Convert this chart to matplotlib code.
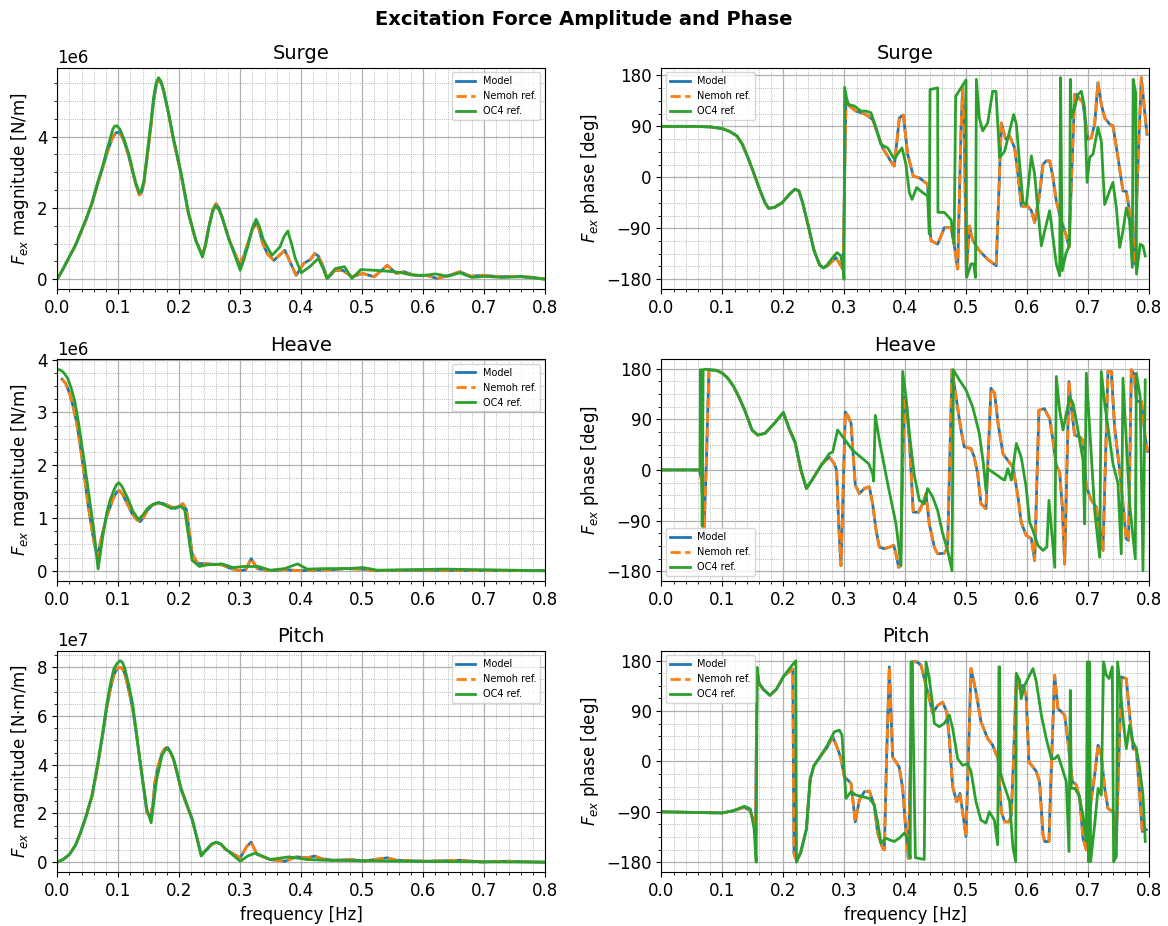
import numpy as np
import matplotlib
matplotlib.use("Agg")
import matplotlib.pyplot as plt
from matplotlib.ticker import MultipleLocator, AutoMinorLocator

# ---- magnitude data (freq [Hz], value), surge/heave in 1e6 N/m, pitch in 1e7 N.m/m ----
surge_mag_nemoh = [
    (0.0, 0.0), (0.01, 0.3), (0.02, 0.63), (0.03, 0.95), (0.038, 1.28), (0.047, 1.65),
    (0.057, 2.12), (0.066, 2.65), (0.075, 3.15), (0.081, 3.5), (0.087, 3.8), (0.091, 3.98),
    (0.096, 4.1), (0.1, 4.12), (0.105, 4.04), (0.11, 3.85), (0.1175, 3.43), (0.123, 3.05),
    (0.1285, 2.68), (0.1346, 2.36), (0.138, 2.42), (0.142, 2.68), (0.148, 3.5), (0.154, 4.36),
    (0.158, 5.0), (0.163, 5.49), (0.1675, 5.6), (0.171, 5.48), (0.1754, 5.2), (0.183, 4.6),
    (0.1906, 3.9), (0.2028, 2.96), (0.215, 1.84), (0.227, 1.09), (0.238, 0.67), (0.243, 0.95),
    (0.2485, 1.47), (0.255, 1.95), (0.2606, 2.12), (0.265, 2.0), (0.27, 1.75), (0.282, 1.09),
    (0.299, 0.42), (0.306, 0.65), (0.3124, 1.0), (0.32, 1.4), (0.3264, 1.56), (0.331, 1.4),
    (0.3368, 1.0), (0.345, 0.7), (0.355, 0.53), (0.365, 0.68), (0.373, 0.81), (0.38, 0.55),
    (0.3916, 0.11), (0.404, 0.44), (0.415, 0.55), (0.422, 0.72), (0.428, 0.65), (0.434, 0.44),
    (0.443, 0.02), (0.4555, 0.25), (0.468, 0.25), (0.483, 0.07), (0.501, 0.16), (0.5195, 0.07),
    (0.532, 0.25), (0.541, 0.39), (0.556, 0.16), (0.568, 0.21), (0.5865, 0.11), (0.605, 0.11),
    (0.623, 0.02), (0.645, 0.12), (0.66, 0.21), (0.678, 0.08), (0.696, 0.11), (0.7266, 0.07),
    (0.757, 0.08), (0.781, 0.05), (0.8, 0.0),
]
surge_mag_oc4 = [
    (0.0, 0.0), (0.01, 0.3), (0.02, 0.63), (0.03, 0.96), (0.038, 1.3), (0.047, 1.68),
    (0.057, 2.15), (0.066, 2.7), (0.075, 3.2), (0.081, 3.6), (0.087, 3.95), (0.091, 4.2),
    (0.094, 4.29), (0.098, 4.3), (0.103, 4.2), (0.11, 3.9), (0.1175, 3.5), (0.123, 3.1),
    (0.1285, 2.72), (0.1346, 2.42), (0.138, 2.5), (0.142, 2.75), (0.148, 3.6), (0.154, 4.45),
    (0.158, 5.1), (0.162, 5.5), (0.166, 5.65), (0.17, 5.55), (0.1745, 5.3), (0.182, 4.7),
    (0.19, 4.0), (0.2028, 3.0), (0.215, 1.88), (0.227, 1.1), (0.238, 0.62), (0.243, 0.95),
    (0.2485, 1.45), (0.255, 1.9), (0.2595, 2.07), (0.265, 1.95), (0.27, 1.75), (0.282, 1.1),
    (0.3, 0.25), (0.306, 0.55), (0.313, 0.95), (0.32, 1.45), (0.326, 1.68), (0.331, 1.5),
    (0.338, 1.1), (0.352, 0.67), (0.365, 0.9), (0.372, 1.2), (0.378, 1.35), (0.384, 1.0),
    (0.39, 0.6), (0.4, 0.18), (0.414, 0.35), (0.428, 0.58), (0.436, 0.3), (0.442, 0.02),
    (0.456, 0.3), (0.471, 0.35), (0.483, 0.02), (0.498, 0.27), (0.52, 0.25), (0.544, 0.22),
    (0.562, 0.19), (0.58, 0.12), (0.6, 0.1), (0.62, 0.15), (0.64, 0.08), (0.66, 0.18),
    (0.68, 0.05), (0.7, 0.08), (0.73, 0.05), (0.76, 0.07), (0.8, 0.0),
]
heave_mag_nemoh = [
    (0.008, 3.63), (0.014, 3.55), (0.02, 3.37), (0.026, 3.12), (0.032, 2.8), (0.038, 2.35),
    (0.044, 1.85), (0.05, 1.3), (0.057, 0.77), (0.061, 0.5), (0.066, 0.27), (0.072, 0.6),
    (0.081, 1.03), (0.088, 1.25), (0.093, 1.4), (0.098, 1.5), (0.102, 1.52), (0.107, 1.45),
    (0.1145, 1.28), (0.122, 1.1), (0.13, 0.97), (0.136, 0.93), (0.142, 1.02), (0.148, 1.15),
    (0.157, 1.25), (0.1663, 1.29), (0.175, 1.27), (0.1845, 1.22), (0.1937, 1.18), (0.2, 1.22),
    (0.206, 1.27), (0.212, 1.15), (0.221, 0.33), (0.23, 0.14), (0.245, 0.13), (0.27, 0.11),
    (0.285, 0.04), (0.3, 0.0), (0.309, 0.02), (0.318, 0.23), (0.328, 0.04), (0.349, 0.0),
    (0.373, 0.02), (0.398, 0.0), (0.422, 0.01), (0.452, 0.02), (0.471, 0.04), (0.501, 0.03),
    (0.52, 0.0), (0.574, 0.01), (0.8, 0.0),
]
heave_mag_oc4 = [
    (0.0, 3.82), (0.006, 3.8), (0.011, 3.75), (0.017, 3.65), (0.023, 3.46), (0.029, 3.2),
    (0.035, 2.8), (0.042, 2.25), (0.05, 1.6), (0.06, 0.77), (0.067, 0.03), (0.074, 0.6),
    (0.081, 1.09), (0.087, 1.35), (0.093, 1.53), (0.097, 1.63), (0.101, 1.67), (0.106, 1.6),
    (0.1145, 1.4), (0.124, 1.13), (0.133, 0.97), (0.14, 1.05), (0.148, 1.18), (0.157, 1.26),
    (0.1663, 1.29), (0.177, 1.24), (0.187, 1.18), (0.195, 1.2), (0.2028, 1.22), (0.209, 1.15),
    (0.221, 0.2), (0.233, 0.08), (0.245, 0.11), (0.27, 0.13), (0.288, 0.06), (0.306, 0.08),
    (0.33, 0.08), (0.349, 0.01), (0.373, 0.04), (0.394, 0.13), (0.41, 0.03), (0.44, 0.04),
    (0.477, 0.04), (0.501, 0.06), (0.525, 0.01), (0.635, 0.03), (0.8, 0.0),
]
pitch_mag_nemoh = [
    (0.0, 0.0), (0.01, 0.12), (0.02, 0.32), (0.03, 0.7), (0.038, 1.2), (0.047, 1.85),
    (0.057, 2.7), (0.066, 3.9), (0.075, 5.3), (0.081, 6.3), (0.087, 7.1), (0.093, 7.7),
    (0.098, 7.93), (0.102, 8.0), (0.107, 7.95), (0.111, 7.72), (0.117, 7.1), (0.1236, 6.3),
    (0.13, 5.2), (0.136, 4.1), (0.142, 3.0), (0.147, 2.03), (0.153, 1.9), (0.157, 2.4),
    (0.16, 3.27), (0.165, 3.9), (0.172, 4.5), (0.177, 4.68), (0.1815, 4.7), (0.186, 4.5),
    (0.1906, 4.22), (0.196, 3.7), (0.2028, 3.0), (0.21, 2.5), (0.221, 1.76), (0.228, 1.1),
    (0.236, 0.32), (0.2455, 0.52), (0.253, 0.72), (0.2606, 0.82), (0.268, 0.75), (0.276, 0.52),
    (0.3, 0.18), (0.311, 0.66), (0.318, 0.82), (0.3275, 0.32), (0.349, 0.11), (0.373, 0.04),
    (0.392, 0.22), (0.41, 0.18), (0.422, 0.25), (0.434, 0.14), (0.4525, 0.08), (0.483, 0.11),
    (0.501, 0.04), (0.52, 0.11), (0.541, 0.18), (0.556, 0.08), (0.605, 0.04), (0.66, 0.08),
    (0.696, 0.01), (0.74, 0.04), (0.8, 0.0),
]
pitch_mag_oc4 = [
    (0.0, 0.0), (0.01, 0.12), (0.02, 0.32), (0.03, 0.7), (0.038, 1.2), (0.047, 1.88),
    (0.057, 2.75), (0.066, 4.0), (0.075, 5.4), (0.081, 6.45), (0.087, 7.3), (0.093, 7.95),
    (0.098, 8.15), (0.103, 8.27), (0.107, 8.2), (0.111, 7.93), (0.117, 7.3), (0.1236, 6.5),
    (0.13, 5.3), (0.136, 4.1), (0.142, 3.0), (0.147, 2.17), (0.154, 1.62), (0.158, 2.4),
    (0.163, 3.4), (0.172, 4.4), (0.179, 4.68), (0.185, 4.55), (0.1906, 4.25), (0.196, 3.75),
    (0.2028, 3.05), (0.21, 2.55), (0.221, 1.8), (0.228, 1.1), (0.236, 0.25), (0.2455, 0.55),
    (0.253, 0.75), (0.2606, 0.82), (0.268, 0.75), (0.276, 0.55), (0.3, 0.04), (0.312, 0.25),
    (0.325, 0.38), (0.349, 0.11), (0.38, 0.22), (0.41, 0.11), (0.44, 0.08), (0.5, 0.06),
    (0.6, 0.03), (0.8, 0.0),
]

# ---- phase data (freq [Hz], phase [deg]) ----
surge_ph_nemoh = [
    (0.0, 90), (0.05, 90), (0.081, 89), (0.1, 86), (0.112, 81), (0.124, 73), (0.133, 58),
    (0.1426, 33), (0.152, 6), (0.161, -21), (0.17, -45), (0.176, -55), (0.1856, -53),
    (0.198, -45), (0.21, -30), (0.219, -21), (0.2255, -24), (0.2316, -45), (0.241, -86),
    (0.25, -128), (0.2593, -154), (0.2654, -160), (0.2716, -157), (0.2808, -148), (0.2863, -142),
    (0.2943, -156), (0.298, -163), (0.3027, 140), (0.3082, 126), (0.319, 117), (0.3355, 111),
    (0.3464, 102), (0.3628, 52), (0.3792, 23), (0.382, 20), (0.3902, 105), (0.3967, 110),
    (0.4038, 41), (0.4131, 2), (0.423, -1), (0.4366, -12), (0.4393, -77), (0.4421, -112),
    (0.453, -118), (0.464, -89), (0.475, -89), (0.48, -118), (0.4858, -162), (0.4913, 82),
    (0.494, 158), (0.4967, 82), (0.5, -172), (0.505, -86), (0.51, -110), (0.52, -128),
    (0.535, -145), (0.549, -156), (0.5574, 96), (0.5628, 73), (0.5656, 67), (0.571, 73),
    (0.5792, 52), (0.5847, 5), (0.5902, -51), (0.601, -51), (0.6066, -59), (0.612, -80),
    (0.62, -30), (0.6257, 23), (0.631, 29), (0.6366, 29), (0.642, 0), (0.6475, -42),
    (0.6557, -77), (0.6639, -103), (0.6683, -124), (0.6776, 146), (0.68, 146), (0.691, 132),
    (0.6995, 67), (0.705, 70), (0.7104, 94), (0.7158, 167), (0.7213, 129), (0.7268, 105),
    (0.735, 94), (0.7404, 91), (0.7486, 35), (0.7568, -24), (0.7623, -25), (0.7667, -54),
    (0.7705, -106), (0.776, -153), (0.7814, 23), (0.7869, 176), (0.7923, 117), (0.7962, 76),
]
surge_ph_oc4 = [
    (0.0, 90), (0.05, 90), (0.081, 89), (0.1, 86), (0.112, 81), (0.124, 73), (0.133, 58),
    (0.1426, 33), (0.152, 6), (0.161, -21), (0.17, -45), (0.176, -55), (0.1856, -53),
    (0.198, -45), (0.21, -30), (0.219, -21), (0.2255, -24), (0.2316, -45), (0.241, -86),
    (0.25, -128), (0.2593, -155), (0.2654, -160), (0.2716, -155), (0.28, -143), (0.288, -133),
    (0.294, -138), (0.298, -160), (0.2995, -180), (0.3005, 159), (0.3055, 129), (0.3164, 126),
    (0.3273, 117), (0.3355, 117), (0.3437, 114), (0.3519, 88), (0.36, 58), (0.371, 52),
    (0.382, 32), (0.3874, 41), (0.3945, 52), (0.401, 23), (0.4066, -27), (0.411, -39),
    (0.4186, -18), (0.4284, -27), (0.4366, -33), (0.4393, -100), (0.4405, 155), (0.453, 158),
    (0.4535, -62), (0.464, -62), (0.475, -75), (0.48, -118), (0.4825, 143), (0.4913, 158),
    (0.4995, 172), (0.5005, -177), (0.5077, -153), (0.512, -153), (0.515, -177), (0.5165, 173),
    (0.5213, 105), (0.5268, 82), (0.535, 96), (0.5432, 152), (0.5486, 152), (0.5546, 35),
    (0.5628, 46), (0.571, 82), (0.5776, 111), (0.582, 94), (0.5874, 23), (0.593, -45),
    (0.5984, -48), (0.6066, 38), (0.612, 5), (0.6175, -59), (0.623, -121), (0.6284, -95),
    (0.6366, -59), (0.642, -106), (0.6475, -153), (0.653, -174), (0.6545, 176), (0.6574, -165),
    (0.663, -136), (0.6694, -118), (0.6705, 173), (0.672, 105), (0.6776, 123), (0.683, 146),
    (0.6885, 152), (0.694, 123), (0.698, -9), (0.7022, 35), (0.7077, 41), (0.7158, 88),
    (0.7213, 64), (0.7268, -48), (0.735, -24), (0.7404, -9), (0.746, -54), (0.7514, -124),
    (0.7568, -95), (0.7623, -54), (0.7677, -77), (0.7721, -159), (0.7735, 173), (0.7776, 149),
    (0.779, -171), (0.785, -118), (0.7896, -121), (0.7934, -139),
]
heave_ph_nemoh = [
    (0.0, 0), (0.0627, 0), (0.066, -20), (0.07, -107), (0.074, 20), (0.078, 178), (0.09, 177),
    (0.1, 172), (0.109, 163), (0.118, 149), (0.127, 130), (0.1364, 107), (0.1487, 71),
    (0.158, 62), (0.17, 65), (0.1855, 83), (0.2, 102), (0.21, 71), (0.2193, 48), (0.2286, 0),
    (0.2378, -33), (0.247, -18), (0.2624, 9), (0.2754, 23), (0.2836, 11), (0.2874, -1),
    (0.2907, -96), (0.2945, -170), (0.2973, -66), (0.3016, 103), (0.3055, 97), (0.311, 83),
    (0.3148, 23), (0.318, -27), (0.3246, -42), (0.3328, -33), (0.341, -30), (0.3464, -60),
    (0.352, -107), (0.3574, -137), (0.3656, -140), (0.374, -137), (0.381, -134), (0.3847, -149),
    (0.389, -173), (0.392, -170), (0.3984, 130), (0.4022, 115), (0.4066, 53), (0.413, -75),
    (0.4219, -75), (0.4284, -60), (0.4339, -42), (0.4393, -96), (0.4475, -137), (0.453, -149),
    (0.464, -148), (0.4694, -137), (0.4765, 178), (0.483, 130), (0.4913, 71), (0.4967, 41),
    (0.5077, 38), (0.513, 23), (0.5186, -7), (0.524, -60), (0.5322, -69), (0.5404, 145),
    (0.5464, 136), (0.552, 83), (0.56, 29), (0.568, 17), (0.5765, 5), (0.5847, -48),
    (0.59, -93), (0.598, -116), (0.6066, -122), (0.612, -161), (0.619, 106), (0.628, 109),
    (0.6366, 91), (0.642, 53), (0.6475, 8), (0.653, -4), (0.6574, -66), (0.6612, -167),
    (0.6683, 157), (0.672, 112), (0.6776, 62), (0.6858, 59), (0.691, 53), (0.6967, -30),
    (0.705, -54), (0.713, -66), (0.7186, -102), (0.724, -143), (0.7322, 175), (0.7377, 175),
    (0.743, 77), (0.7514, -1), (0.7568, -60), (0.762, -122), (0.766, -125), (0.7705, 178),
    (0.775, 170), (0.779, 122), (0.787, 122), (0.793, 60), (0.797, 33),
]
heave_ph_oc4 = [
    (0.0, 0), (0.0635, 0), (0.064, 178), (0.0655, 178), (0.067, -100), (0.0685, 178),
    (0.072, 179), (0.078, 178), (0.09, 177), (0.1, 172), (0.109, 163), (0.118, 149),
    (0.127, 130), (0.1364, 107), (0.1487, 71), (0.158, 62), (0.17, 65), (0.1855, 83),
    (0.2, 102), (0.21, 73), (0.2193, 50), (0.2286, 2), (0.2378, -33), (0.247, -18),
    (0.2624, 9), (0.2754, 29), (0.281, 32), (0.289, 71), (0.2973, 59), (0.3137, 35),
    (0.33, 20), (0.34, 11), (0.3464, -7), (0.348, -20), (0.3508, 97), (0.3574, 53),
    (0.371, -24), (0.3847, -96), (0.3929, -170), (0.3956, 175), (0.401, 130), (0.4066, 65),
    (0.4148, -10), (0.423, -54), (0.4311, -60), (0.4366, -33), (0.4448, -48), (0.453, -72),
    (0.4612, -113), (0.4694, -143), (0.4765, -179), (0.4787, 178), (0.4885, 160), (0.4995, 142),
    (0.5104, 112), (0.5213, 65), (0.528, 11), (0.5322, -36), (0.535, 2), (0.5432, -4),
    (0.554, -12), (0.5574, -15), (0.563, -18), (0.568, 2), (0.5738, -18), (0.582, 47),
    (0.59, 23), (0.598, -30), (0.6038, -93), (0.609, -107), (0.6175, -134), (0.6257, -143),
    (0.632, -137), (0.6355, -54), (0.64, -110), (0.645, -173), (0.6475, 166), (0.653, 106),
    (0.6585, 71), (0.664, 100), (0.6694, 130), (0.675, 118), (0.683, 71), (0.6913, 17),
    (0.694, -96), (0.6967, 172), (0.7104, -72), (0.7186, -155), (0.7213, 175), (0.7268, 118),
    (0.7404, 11), (0.7486, -24), (0.754, -149), (0.7568, 163), (0.7677, -60), (0.777, -158),
    (0.7787, 172), (0.785, 130), (0.7896, -179), (0.7934, 160),
]
pitch_ph_nemoh = [
    (0.0, -90), (0.05, -91), (0.1, -92), (0.118, -88), (0.1364, -82), (0.1456, -88),
    (0.152, -110), (0.1545, -105), (0.157, 160), (0.16, 140), (0.167, 129), (0.178, 118),
    (0.1886, 129), (0.201, 153), (0.2155, 165), (0.2175, -165), (0.222, -178), (0.2286, -162),
    (0.2378, -121), (0.244, -32), (0.25, -8), (0.2593, 7), (0.2716, 25), (0.281, 44),
    (0.289, 23), (0.2945, 5), (0.3, -27), (0.3055, -33), (0.311, -39), (0.318, -108),
    (0.3246, -69), (0.3328, -54), (0.341, -53), (0.349, -78), (0.3546, -128), (0.3628, -155),
    (0.3656, -158), (0.3694, 11), (0.3738, 169), (0.3792, 8), (0.3847, -1), (0.39, -10),
    (0.3956, -48), (0.401, -125), (0.4049, -173), (0.412, 178), (0.4186, 178), (0.4257, 172),
    (0.4339, 136), (0.4393, 112), (0.4448, 86), (0.453, 100), (0.4612, 106), (0.4678, 89),
    (0.4721, 41), (0.4776, -45), (0.4842, -72), (0.4896, -57), (0.4995, -134), (0.5077, 166),
    (0.5158, 124), (0.524, 71), (0.535, 41), (0.5432, 29), (0.552, 5), (0.5574, -90),
    (0.563, -108), (0.57, -108), (0.5738, -96), (0.5776, 11), (0.582, 157), (0.5874, 130),
    (0.593, 136), (0.598, 118), (0.6027, -1), (0.6093, -10), (0.6148, -18), (0.62, -36),
    (0.6257, -131), (0.6284, -143), (0.6355, -143), (0.6393, -12), (0.6448, 154), (0.6503, 94),
    (0.6557, 89), (0.6612, 83), (0.6667, 35), (0.6738, -36), (0.6803, -42), (0.6858, -66),
    (0.6913, -137), (0.6967, -158), (0.705, -66), (0.7104, -24), (0.716, 29), (0.7213, 11),
    (0.7268, -48), (0.7322, -84), (0.7404, -90), (0.746, -143), (0.754, 151), (0.7623, 148),
    (0.7677, 83), (0.7732, 23), (0.7787, 20), (0.784, -54), (0.7885, -125), (0.795, -122),
]
pitch_ph_oc4 = [
    (0.0, -90), (0.05, -91), (0.1, -92), (0.118, -88), (0.1364, -80), (0.146, -85),
    (0.152, -120), (0.1555, -180), (0.157, 168), (0.16, 140), (0.167, 129), (0.178, 118),
    (0.1886, 129), (0.201, 153), (0.213, 170), (0.2205, 180), (0.2215, -180), (0.2286, -162),
    (0.2378, -121), (0.244, -32), (0.25, -8), (0.2593, 7), (0.2716, 28), (0.2836, 53),
    (0.2918, 56), (0.2962, 47), (0.3027, -66), (0.311, -54), (0.319, -60), (0.33, -63),
    (0.341, -66), (0.349, -78), (0.3546, -108), (0.36, -146), (0.368, -137), (0.3738, -140),
    (0.382, -143), (0.39, -137), (0.3984, -128), (0.4038, -137), (0.408, -173), (0.4093, 178),
    (0.411, 178), (0.4165, -172), (0.431, -175), (0.4339, 178), (0.4393, 148), (0.4448, 100),
    (0.4475, 68), (0.4557, 62), (0.464, 68), (0.4721, 83), (0.4776, 59), (0.4858, 5),
    (0.494, -7), (0.502, -4), (0.5077, -18), (0.5158, -72), (0.524, -105), (0.5322, -110),
    (0.5377, -90), (0.546, -105), (0.5514, -149), (0.5535, 169), (0.5546, 169), (0.556, -20),
    (0.56, -36), (0.5656, -54), (0.571, -72), (0.5765, -155), (0.581, -179), (0.582, 157),
    (0.5874, 145), (0.59, 112), (0.5956, 136), (0.601, 148), (0.6093, 166), (0.6148, 142),
    (0.623, 83), (0.631, 41), (0.6393, 5), (0.6448, 5), (0.6503, 11), (0.6557, -7),
    (0.6639, -36), (0.6683, -161), (0.6705, 127), (0.672, -48), (0.6776, -48), (0.6847, -60),
    (0.6913, -96), (0.6967, -143), (0.6984, 178), (0.7005, -179), (0.702, 178), (0.7038, -179),
    (0.7104, -113), (0.716, -48), (0.7213, -60), (0.725, 178), (0.7295, 154), (0.734, 148),
    (0.7393, 169), (0.7415, -179), (0.746, -170), (0.748, 178), (0.7525, 130), (0.7568, 77),
    (0.7623, 23), (0.7677, 65), (0.7732, 35), (0.7787, 23), (0.784, -10), (0.7896, -60),
    (0.7934, -143),
]

# model output lies on top of the Nemoh reference everywhere
surge_mag_model, heave_mag_model, pitch_mag_model = surge_mag_nemoh, heave_mag_nemoh, pitch_mag_nemoh
surge_ph_model, heave_ph_model, pitch_ph_model = surge_ph_nemoh, heave_ph_nemoh, pitch_ph_nemoh

dofs = ["Surge", "Heave", "Pitch"]
mag_units = ["[N/m]", "[N/m]", "[N$\\cdot$m/m]"]
mag_scale = [1e6, 1e6, 1e7]
mag_step = [2e6, 1e6, 2e7]
mag_sets = [
    (surge_mag_model, surge_mag_nemoh, surge_mag_oc4),
    (heave_mag_model, heave_mag_nemoh, heave_mag_oc4),
    (pitch_mag_model, pitch_mag_nemoh, pitch_mag_oc4),
]
ph_sets = [
    (surge_ph_model, surge_ph_nemoh, surge_ph_oc4),
    (heave_ph_model, heave_ph_nemoh, heave_ph_oc4),
    (pitch_ph_model, pitch_ph_nemoh, pitch_ph_oc4),
]
ph_legend_loc = ["upper left", "lower left", "upper left"]

plt.rcParams["font.size"] = 12

fig, axes = plt.subplots(3, 2, figsize=(11.68, 9.26), dpi=100)
fig.subplots_adjust(left=0.049, right=0.984, bottom=0.058, top=0.927, hspace=0.315, wspace=0.238)
fig.suptitle("Excitation Force Amplitude and Phase", fontsize=14, fontweight="bold", y=0.989)


def draw(ax, sets, scale):
    labels = ["Model", "Nemoh ref.", "OC4 ref."]
    styles = [dict(color="C0", ls="-"), dict(color="C1", ls="--"), dict(color="C2", ls="-")]
    for data, lab, st in zip(sets, labels, styles):
        d = np.array(data, dtype=float)
        ax.plot(d[:, 0], d[:, 1] * scale, lw=2.0, label=lab, **st)


def style(ax):
    ax.set_xlim(0, 0.8)
    ax.xaxis.set_major_locator(MultipleLocator(0.1))
    ax.xaxis.set_minor_locator(MultipleLocator(0.02))
    ax.yaxis.set_minor_locator(AutoMinorLocator(4))
    ax.grid(which="major", color="#b0b0b0", lw=0.9)
    ax.grid(which="minor", color="#a0a0a0", lw=0.6, ls=":")
    ax.set_axisbelow(True)


for i, dof in enumerate(dofs):
    ax = axes[i, 0]
    draw(ax, mag_sets[i], mag_scale[i])
    style(ax)
    ax.yaxis.set_major_locator(MultipleLocator(mag_step[i]))
    ax.set_title(dof, fontsize=14)
    ax.set_ylabel("$F_{ex}$ magnitude " + mag_units[i])
    ax.legend(loc="upper right", fontsize=7)

    ax = axes[i, 1]
    draw(ax, ph_sets[i], 1.0)
    style(ax)
    ax.yaxis.set_major_locator(MultipleLocator(90))
    ax.set_title(dof, fontsize=14)
    ax.set_ylabel("$F_{ex}$ phase [deg]")
    ax.legend(loc=ph_legend_loc[i], fontsize=7)

for ax in axes[2]:
    ax.set_xlabel("frequency [Hz]")

fig.savefig("out.png", dpi=100)
